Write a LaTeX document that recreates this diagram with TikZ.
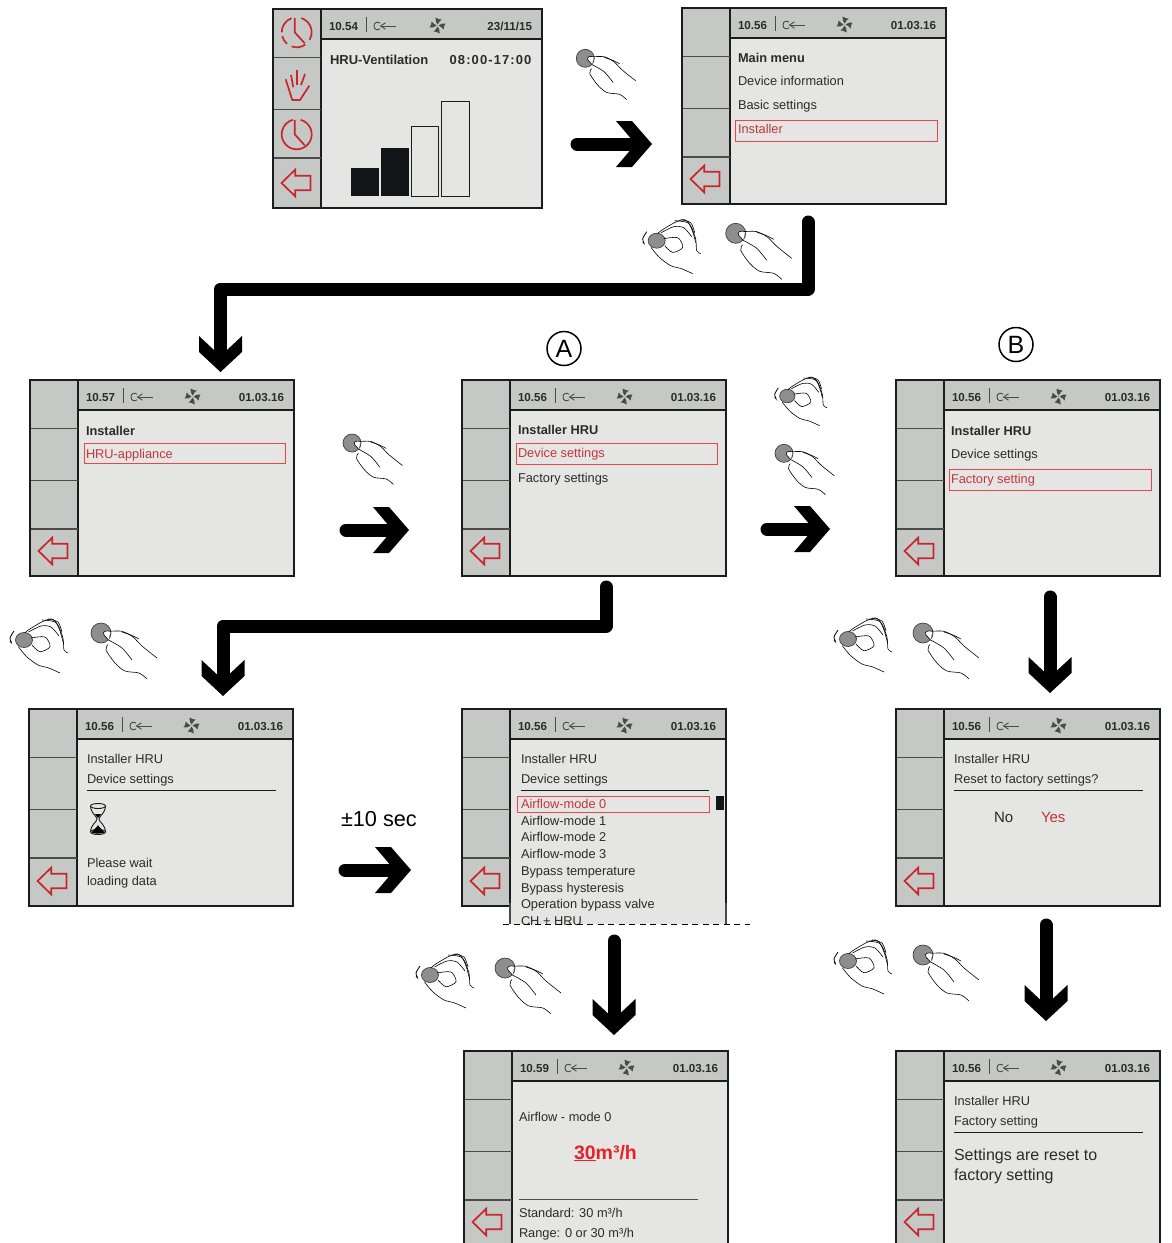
\documentclass[tikz,border=0pt]{standalone}
\usepackage{fontspec}
\setmainfont{Liberation Sans}
\usetikzlibrary{arrows.meta}
\definecolor{sidegray}{HTML}{C6C8C6}
\definecolor{maingray}{HTML}{E5E5E4}
\definecolor{framecol}{HTML}{1A1C1E}
\definecolor{divcol}{HTML}{4A4C4C}
\definecolor{txtcol}{HTML}{2B2B2B}
\definecolor{redtxt}{HTML}{C4363C}
\definecolor{redbox}{HTML}{E8484C}
\definecolor{redicon}{HTML}{C8252D}
\definecolor{brightred}{HTML}{E8202A}
\definecolor{knob}{HTML}{8E8E8E}
\definecolor{barblack}{HTML}{121517}
\newcommand\chevtip[2]{%
\pgfdeclarearrow{
  name=#1,
  setup code={\pgfarrowssettipend{0pt}\pgfarrowssetlineend{-22pt}\pgfarrowssetvisualbackend{-36pt}\pgfarrowssetbackend{-36pt}},
  drawing code={
    \pgfpathmoveto{\pgfqpoint{0pt}{0pt}}
    \pgfpathlineto{\pgfqpoint{-20pt}{#2pt}}
    \pgfpathlineto{\pgfqpoint{-36pt}{#2pt}}
    \pgfpathlineto{\pgfqpoint{-22pt}{6.5pt}}
    \pgfpathlineto{\pgfqpoint{-22pt}{-6.5pt}}
    \pgfpathlineto{\pgfqpoint{-36pt}{-#2pt}}
    \pgfpathlineto{\pgfqpoint{-20pt}{-#2pt}}
    \pgfpathclose\pgfusepathqfill},
  defaults={}
}}
\chevtip{Chev}{23}
\chevtip{ChevD}{21.5}
\newcounter{tn}
\tikzset{
  x=1pt,y=-1pt,
  screenbox/.style={draw=framecol,line width=1.5pt,fill=maingray,inner sep=0pt,outer sep=0pt,anchor=north west},
  lbl/.style={anchor=base west,inner sep=0pt,outer sep=0pt,text=txtcol,font=\fontsize{12.8}{15}\selectfont},
  lblb/.style={lbl,font=\fontsize{12.8}{15}\selectfont\bfseries},
  redl/.style={lbl,text=redtxt},
  stamp/.style={lbl,font=\fontsize{11.6}{14}\selectfont\bfseries},
  divider/.style={draw=divcol,line width=1.1pt},
  rule/.style={draw=framecol,line width=.9pt},
  selbox/.style={draw=redbox,line width=.9pt},
  redico/.style={draw=redicon,line width=1.7pt,line join=miter},
  conn/.style={draw=black,line width=13pt,line cap=round,line join=round,-{Chev}},
  connd/.style={conn,-{ChevD}},
  handln/.style={draw=black,line width=.6pt},
  knobf/.style={draw=black!75,line width=.7pt,fill=knob},
  circled/.style={draw=black,circle,line width=1.5pt,minimum size=34pt,inner sep=0pt,font=\fontsize{25}{25}\selectfont},
  press/.pic={
    \draw[knobf] (0,0) circle (10);
    \draw[handln,fill=white] (9.3,-1.7) .. controls (5,-3) and (1,-1.5) .. (3,2) .. controls (4.5,4) and (6,5) .. (7.5,7);
    \draw[handln] plot[smooth] coordinates {(9,-1.7) (21,-1.7) (32,4) (41,13) (56,25)};
    \draw[handln] plot[smooth] coordinates {(21,-1) (30,2) (38,6)};
    \draw[handln] plot[smooth] coordinates {(7.5,7) (21,15) (31,27)};
    \draw[handln] plot[smooth] coordinates {(7,11.5) (5,17) (14,30) (24,38) (38,40) (46,46)};
  },
  turn/.pic={
    \draw[knobf] (0,0) ellipse (8.5 and 7.5);
    \draw[handln,line width=.8pt,-{Stealth[length=2pt,width=2pt]}] plot[smooth] coordinates {(-10,-9) (-14,-2) (-12.5,3)};
    \draw[handln] plot[smooth] coordinates {(1,-7) (4.3,-10) (17.7,-18) (27.7,-21) (34,-15) (39,-1.7) (40,10) (44,13)};
    \draw[handln] plot[smooth] coordinates {(18,-20) (31,-18) (36,-9) (39,2)};
    \draw[handln] plot[smooth] coordinates {(24,-21) (34,-18) (38,-8)};
    \draw[handln] plot[smooth] coordinates {(4.5,-8) (17,-14) (27,-13) (35,-4)};
    \draw[handln] plot[smooth] coordinates {(7,-2) (21,-3) (26,6.7) (16,11.7) (8,5)};
    \draw[handln] plot[smooth] coordinates {(-5.7,6.7) (2.7,16.7) (14,25) (24,27.7) (36,33)};
  },
  fan/.pic={
    \foreach \a in {0,90,180,270}
      \fill[divcol,rotate=\a] (0,-1) .. controls (-1.5,-3) and (-2.5,-5) .. (-2,-8) .. controls (0,-6.5) and (2,-6) .. (4,-6) .. controls (2.5,-5) and (1.2,-3) .. (0,-1) -- cycle;
  },
  keyico/.pic={
    \draw[divcol,line width=.9pt] (6,-2.8) .. controls (4,-4.6) and (0,-4) .. (0,0) .. controls (0,4) and (4,4.6) .. (6,2.8);
    \draw[divcol,line width=.9pt] (11.5,-3.2) -- (6.5,0) -- (11.5,3.2);
    \draw[divcol,line width=.9pt] (6.5,0) -- (22,0);
  },
  backarrow/.pic={
    \draw[redico] (0,0) -- (13.7,-13.3) -- (13.7,-7.3) -- (29,-7.3) -- (29,7.3) -- (13.7,7.3) -- (13.7,13.3) -- cycle;
  },
  hourglass/.pic={
    \draw[framecol,line width=.9pt] (0,-13) ellipse (7.5 and 2.5);
    \draw[framecol,line width=.9pt] (0,13) ellipse (7.5 and 2.5);
    \draw[framecol,line width=.9pt] (-7.5,-13) .. controls (-7,-5) and (-1,-3) .. (-1,0) .. controls (-1,3) and (-7,5) .. (-7.5,13);
    \draw[framecol,line width=.9pt] (7.5,-13) .. controls (7,-5) and (1,-3) .. (1,0) .. controls (1,3) and (7,5) .. (7.5,13);
    \fill[black] (-6.5,13.5) .. controls (-5,10) and (-1,9) .. (0,6) .. controls (1,9) and (5,10) .. (6.5,13.5) .. controls (3,15) and (-3,15) .. (-6.5,13.5) -- cycle;
    \fill[black] (-3.2,-5) -- (3.2,-5) -- (0,-1) -- cycle;
  },
}
\newcommand\txt[4][lbl]{\stepcounter{tn}\node[#1] (t\thetn) at (#2,#3) {#4};}
\newcommand\selrect[5]{\node[selbox,inner sep=0pt,outer sep=0pt,anchor=north west,minimum width=\the\numexpr#4-#2-1\relax pt,minimum height=\the\numexpr#5-#3\relax pt] (#1) at (#2,#3) {};}
% name x0 y0 x1 y1 time date
\newcommand\panel[7]{%
  \pgfmathsetmacro\pw{#4-#2-1}\pgfmathsetmacro\ph{#5-#3-1}\pgfmathsetmacro\fanx{163+0.4*(\pw-265)}%
  \node[screenbox,minimum width=\pw pt,minimum height=\ph pt] (#1) at (#2,#3) {};
  \begin{scope}[shift={(#2,#3)}]
    \fill[sidegray] (0,0) rectangle (48,\ph);
    \fill[sidegray] (48,0) rectangle (\pw,30);
    \draw[framecol,line width=1.3pt] (48,30) -- (\pw,30);
    \draw[framecol,line width=1.3pt] (48,0) -- (48,\ph);
    \draw[divider] (0,48.5) -- (48,48.5);
    \draw[divider] (0,100.5) -- (48,100.5);
    \draw[divider] (0,149) -- (48,149);
    \draw[divcol,line width=1pt] (93.5,8) -- (93.5,23);
    \pic at (101,17) {keyico};
    \pic at (\fanx,16.5) {fan};
    \draw[framecol,line width=1.5pt] (0,0) rectangle (\pw,\ph);
    \pic at (8.5,\ph-25) {backarrow};
  \end{scope}
  \txt[stamp]{#2+56}{#3+21.5}{#6}
  \txt[stamp,anchor=base east]{#4-11}{#3+21.5}{#7}
}
\begin{document}
\begin{tikzpicture}
\useasboundingbox (0,0) rectangle (1172,1243);
\clip (0,0) rectangle (1172,1243);

% --- first row ---
\panel{pone}{273}{9}{543}{209}{10.54}{23/11/15}
\begin{scope}[shift={(296.7,32.3)},y=1pt]
  \draw[redicon,line width=1.7pt] (72:15) arc (72:-30:15);
  \draw[redicon,line width=1.7pt] (-55:15) arc (-55:-110:15);
  \draw[redicon,line width=1.7pt] (-130:15) arc (-130:-165:15);
  \draw[redicon,line width=1.7pt] (-180:15) arc (-180:-250:15);
  \draw[redicon,line width=1.7pt] (-2,14.5) -- (-2,0) -- (8,-11);
\end{scope}
\draw[redico,line join=round] (285.7,79.3) -- (292.3,100) -- (300,100) -- (309.3,85.7);
\draw[redico] (291,75) -- (293.3,87.3);
\draw[redico] (297.3,70) -- (297.3,85);
\draw[redico] (305,74) -- (301,85);
\begin{scope}[shift={(296.7,134.3)},y=1pt]
  \draw[redicon,line width=1.7pt] (75:15) arc (75:-255:15);
  \draw[redicon,line width=1.7pt] (-2,14.5) -- (-2,0) -- (8,-11);
\end{scope}
\txt[lblb,font=\fontsize{13}{15}\selectfont\bfseries]{330}{64.5}{HRU-Ventilation}
\txt[lblb,font=\fontsize{13}{15}\selectfont\bfseries\addfontfeature{LetterSpace=8.5},anchor=base east]{531.5}{64.5}{08:00-17:00}
\fill[barblack] (350.7,167.7) rectangle (379.2,196);
\fill[barblack] (380.7,147.7) rectangle (409.2,196);
\draw[framecol,line width=.9pt] (411,126) rectangle (438.7,196);
\draw[framecol,line width=.9pt] (441,101) rectangle (469,196);

\panel{ptwo}{682}{8}{947}{205}{10.56}{01.03.16}
\txt[lblb]{738}{62}{Main menu}
\txt{738}{85}{Device information}
\txt{738}{109}{Basic settings}
\selrect{s2}{735}{120}{938}{141}
\txt[redl]{738}{133}{Installer}

% --- second row ---
\panel{pthree}{30}{380}{295}{577}{10.57}{01.03.16}
\txt[lblb]{86}{435}{Installer}
\selrect{s3}{84}{443}{286}{463}
\txt[redl]{86}{458}{HRU-appliance}

\panel{pfour}{462}{380}{727}{577}{10.56}{01.03.16}
\txt[lblb]{518}{434}{Installer HRU}
\selrect{s4}{516}{443}{718}{464}
\txt[redl]{518}{457}{Device settings}
\txt{518}{482}{Factory settings}

\panel{pfive}{896}{380}{1161}{577}{10.56}{01.03.16}
\txt[lblb]{951}{435}{Installer HRU}
\txt{951}{458}{Device settings}
\selrect{s5}{949}{469}{1152}{490}
\txt[redl]{951}{483}{Factory setting}

\node[circled] (labA) at (564,348.5) {A};
\node[circled] (labB) at (1016,344.5) {B};

% --- third row ---
\panel{psix}{29}{709}{294}{907}{10.56}{01.03.16}
\txt{87}{763}{Installer HRU}
\txt{87}{783}{Device settings}
\draw[rule] (87,790.5) -- (276,790.5);
\pic at (98,819) {hourglass};
\txt{87}{867}{Please wait}
\txt{87}{885}{loading data}

\panel{pseven}{462}{709}{727}{907}{10.56}{01.03.16}
\fill[maingray] (510,903) rectangle (726,924);
\draw[divcol,line width=1.3pt] (510,903) -- (510,924);
\draw[divcol,line width=1.3pt] (726,903) -- (726,924);
\txt{521}{763}{Installer HRU}
\txt{521}{783}{Device settings}
\draw[rule] (521,790.5) -- (709,790.5);
\selrect{s7}{517}{796}{710}{812}
\txt[redl]{521}{808}{Airflow-mode 0}
\txt{521}{825}{Airflow-mode 1}
\txt{521}{841}{Airflow-mode 2}
\txt{521}{858}{Airflow-mode 3}
\txt{521}{875}{Bypass temperature}
\txt{521}{892}{Bypass hysteresis}
\txt{521}{908}{Operation bypass valve}
\txt{521}{925}{CH + HRU}
\fill[barblack] (716,796) rectangle (724,810);
\draw[black,line width=1pt,dash pattern=on 6pt off 4.5pt] (503,924) -- (750,924);

\panel{peight}{896}{709}{1161}{907}{10.56}{01.03.16}
\txt{954}{763}{Installer HRU}
\txt{954}{783}{Reset to factory settings?}
\draw[rule] (954,790.5) -- (1143,790.5);
\txt[lbl,font=\fontsize{15}{17}\selectfont]{994}{822}{No}
\txt[redl,font=\fontsize{15}{17}\selectfont]{1041}{822}{Yes}

% --- last row ---
\panel{pnine}{464}{1051}{729}{1248}{10.59}{01.03.16}
\txt{519}{1121}{Airflow - mode 0}
\txt[lblb,text=brightred,font=\fontsize{19.5}{22}\selectfont\bfseries]{574}{1159}{\underline{30}m³/h}
\draw[divider] (519,1199.5) -- (698,1199.5);
\txt{519}{1217}{Standard: 30 m³/h}
\txt{519}{1237}{Range: 0 or 30 m³/h}

\panel{pten}{896}{1051}{1161}{1248}{10.56}{01.03.16}
\txt{954}{1105}{Installer HRU}
\txt{954}{1125}{Factory setting}
\draw[rule] (954,1132.5) -- (1143,1132.5);
\txt[lbl,font=\fontsize{16}{19}\selectfont]{954}{1160}{Settings are reset to}
\txt[lbl,font=\fontsize{16}{19}\selectfont]{954}{1180}{factory setting}

\txt[lbl,text=black,font=\fontsize{21.7}{24}\selectfont]{341}{826}{±10 sec}

% --- hands ---
\pic[scale=.9] at (585.3,58.3) {press};
\pic at (656.7,240.7) {turn};
\pic at (735.7,233.3) {press};
\pic[scale=.9] at (352,443) {press};
\pic[scale=.9] at (787.3,396) {turn};
\pic[scale=.9] at (784,453.3) {press};
\pic at (24,640) {turn};
\pic at (101,633) {press};
\pic at (848,639) {turn};
\pic at (923,633) {press};
\pic at (430,975) {turn};
\pic at (505,968) {press};
\pic at (848,961) {turn};
\pic at (923,955) {press};

% --- connectors ---
\coordinate (a1) at (577,144); \coordinate (a2) at (652,144);
\draw[conn] (a1) -- (a2);
\coordinate (b1) at (808,222); \coordinate (b2) at (808,289); \coordinate (b3) at (220.5,289); \coordinate (b4) at (220.5,372);
\draw[connd] (b1) -- (b2) -- (b3) -- (b4);
\coordinate (c1) at (346,530); \coordinate (c2) at (409,530);
\draw[conn] (c1) -- (c2);
\coordinate (d1) at (767,529); \coordinate (d2) at (830,529);
\draw[conn] (d1) -- (d2);
\coordinate (e1) at (606,587); \coordinate (e2) at (606,626); \coordinate (e3) at (223,626); \coordinate (e4) at (223,696);
\draw[connd] (e1) -- (e2) -- (e3) -- (e4);
\coordinate (f1) at (1050,597); \coordinate (f2) at (1050,693);
\draw[connd] (f1) -- (f2);
\coordinate (g1) at (345,870); \coordinate (g2) at (411,870);
\draw[conn] (g1) -- (g2);
\coordinate (h1) at (614,941); \coordinate (h2) at (614,1035);
\draw[connd] (h1) -- (h2);
\coordinate (i1) at (1046,925); \coordinate (i2) at (1046,1021);
\draw[connd] (i1) -- (i2);
\end{tikzpicture}
\end{document}
